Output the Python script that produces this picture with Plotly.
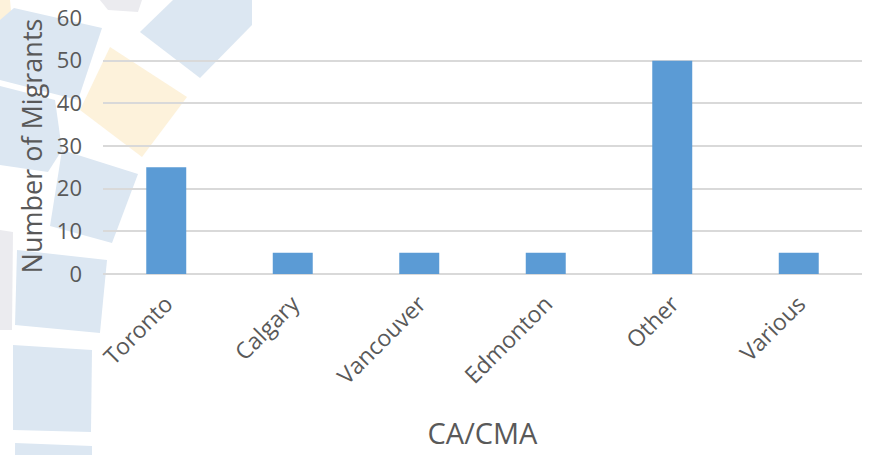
import plotly.graph_objects as go

# Migrant counts by census area / metropolitan area
categories = ["Toronto", "Calgary", "Vancouver", "Edmonton", "Other", "Various"]
migrants = [25, 5, 5, 5, 50, 5]
y_ticks = [0, 10, 20, 30, 40, 50, 60]

W, H = 872, 455
ML, MR, MT, MB = 103, 10, 18, 181
PW, PH = W - ML - MR, H - MT - MB

TEXT = "#595959"
FONT = "Open Sans"


def px(x, y):
    """Canvas pixel -> paper coordinates."""
    return (x - ML) / PW, (H - MB - y) / PH


def poly(points, color):
    pts = [px(x, y) for x, y in points]
    path = "M " + " L ".join(f"{a:.4f},{b:.4f}" for a, b in pts) + " Z"
    return dict(type="path", path=path, xref="paper", yref="paper",
                fillcolor=color, line=dict(width=0), layer="below")


BLUE = "#dce7f2"
YELLOW = "#fdf2db"
GREY = "#ebebef"

# decorative tile arc along the left edge
tiles = [
    poly([(0, 0), (10, 0), (12, 22), (0, 25)], YELLOW),
    poly([(14, 8), (102, 28), (78, 100), (0, 80), (0, 20)], BLUE),
    poly([(0, 86), (55, 100), (62, 150), (48, 172), (0, 165)], BLUE),
    poly([(100, 0), (142, 0), (138, 12), (108, 10)], GREY),
    poly([(140, 32), (173, 0), (252, 0), (252, 25), (200, 78)], BLUE),
    poly([(110, 47), (187, 97), (142, 157), (80, 110)], YELLOW),
    poly([(62, 150), (138, 174), (112, 243), (50, 226)], BLUE),
    poly([(0, 230), (13, 232), (12, 330), (0, 330)], GREY),
    poly([(17, 250), (107, 260), (100, 333), (15, 325)], BLUE),
    poly([(13, 345), (92, 350), (91, 432), (13, 430)], BLUE),
    poly([(15, 443), (92, 446), (92, 455), (15, 455)], BLUE),
]

fig = go.Figure(
    go.Bar(
        x=categories,
        y=migrants,
        marker=dict(color="#5b9bd5", line=dict(width=0)),
        width=0.316,
    )
)

fig.update_layout(
    width=W,
    height=H,
    margin=dict(l=ML, r=MR, t=MT, b=MB),
    paper_bgcolor="white",
    plot_bgcolor="rgba(0,0,0,0)",
    font=dict(family=FONT, color=TEXT),
    showlegend=False,
    shapes=tiles,
    xaxis=dict(
        automargin=False,
        tickangle=-45,
        tickfont=dict(size=23, color=TEXT),
        showgrid=False,
        showline=False,
        ticks="",
        ticklabelstandoff=11,
        title=dict(text="CA/CMA", font=dict(size=29, color=TEXT), standoff=33),
    ),
    yaxis=dict(
        automargin=False,
        range=[0, 60],
        tickvals=y_ticks,
        tickfont=dict(size=22, color=TEXT),
        gridcolor="#d9d9d9",
        gridwidth=1.5,
        zeroline=True,
        zerolinecolor="#d9d9d9",
        zerolinewidth=1.5,
        showline=False,
        ticks="",
        ticklabelstandoff=20,
        title=dict(text="Number of Migrants", font=dict(size=27, color=TEXT), standoff=6),
    ),
)

fig.write_html("out.html")
